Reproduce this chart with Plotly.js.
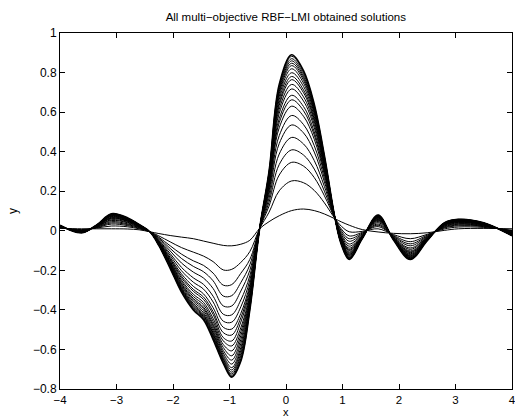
<!DOCTYPE html>
<html>
<head>
<meta charset="utf-8">
<script src="https://cdn.plot.ly/plotly-3.0.1.min.js"></script>
<style>html,body{margin:0;padding:0;background:#fff;}#chart{width:515px;height:419px;}</style>
</head>
<body>
<div id="chart"></div>
<script>
const chartTitle = "All multi\u2212objective RBF\u2212LMI obtained solutions";
const xLabel = "x";
const yLabel = "y";
const xs = [-4, -3.62, -3.35, -3.09, -2.8, -2.6, -2.41, -2.25, -2.05, -1.85, -1.64, -1.46, -1.29, -1.11, -0.96, -0.8, -0.64, -0.47, -0.3, -0.12, 0.1, 0.31, 0.5, 0.68, 0.87, 0.98, 1.12, 1.35, 1.63, 1.9, 2.2, 2.5, 2.8, 3.05, 3.5, 4];

const y01 = [0.012, 0.010, 0.010, 0.010, 0.009, 0.005, -0.005, -0.014, -0.024, -0.032, -0.040, -0.052, -0.063, -0.074, -0.076, -0.068, -0.048, 0.010, 0.046, 0.076, 0.102, 0.110, 0.102, 0.085, 0.060, 0.045, 0.028, 0.006, -0.006, -0.013, -0.015, -0.010, 0.002, 0.010, 0.012, 0.010];
const y02 = [0.015, 0.006, 0.014, 0.024, 0.020, 0.010, -0.005, -0.026, -0.056, -0.085, -0.108, -0.128, -0.156, -0.198, -0.195, -0.160, -0.105, 0.009, 0.094, 0.202, 0.252, 0.243, 0.204, 0.141, 0.060, 0.023, -0.005, -0.003, 0.010, -0.019, -0.040, -0.018, 0.009, 0.019, 0.017, 0.003];
const y03 = [0.017, 0.004, 0.016, 0.034, 0.026, 0.013, -0.005, -0.033, -0.076, -0.118, -0.152, -0.175, -0.214, -0.275, -0.272, -0.215, -0.145, 0.009, 0.125, 0.282, 0.346, 0.327, 0.269, 0.177, 0.060, 0.009, -0.026, -0.008, 0.021, -0.023, -0.055, -0.022, 0.014, 0.025, 0.021, -0.001];
const y04 = [0.018, 0.002, 0.018, 0.040, 0.031, 0.016, -0.005, -0.038, -0.089, -0.140, -0.180, -0.207, -0.253, -0.330, -0.328, -0.262, -0.172, 0.009, 0.145, 0.335, 0.409, 0.383, 0.312, 0.200, 0.060, 0.000, -0.040, -0.012, 0.028, -0.026, -0.066, -0.026, 0.017, 0.029, 0.023, -0.004];
const y05 = [0.020, 0.001, 0.019, 0.046, 0.035, 0.018, -0.005, -0.043, -0.102, -0.163, -0.209, -0.239, -0.292, -0.380, -0.380, -0.305, -0.200, 0.009, 0.165, 0.388, 0.472, 0.439, 0.355, 0.224, 0.060, -0.009, -0.053, -0.016, 0.034, -0.028, -0.076, -0.029, 0.020, 0.033, 0.025, -0.007];
const y06 = [0.021, -0.001, 0.021, 0.052, 0.040, 0.020, -0.005, -0.048, -0.115, -0.185, -0.238, -0.271, -0.331, -0.422, -0.425, -0.350, -0.227, 0.008, 0.186, 0.441, 0.535, 0.495, 0.398, 0.247, 0.060, -0.018, -0.067, -0.019, 0.041, -0.031, -0.087, -0.032, 0.023, 0.036, 0.027, -0.009];
const y07 = [0.022, -0.002, 0.022, 0.056, 0.043, 0.022, -0.005, -0.051, -0.125, -0.202, -0.260, -0.295, -0.360, -0.457, -0.462, -0.385, -0.249, 0.008, 0.201, 0.481, 0.583, 0.537, 0.430, 0.265, 0.060, -0.025, -0.078, -0.022, 0.047, -0.033, -0.094, -0.034, 0.025, 0.039, 0.029, -0.011];
const y08 = [0.023, -0.003, 0.023, 0.061, 0.047, 0.023, -0.005, -0.055, -0.135, -0.218, -0.281, -0.319, -0.389, -0.488, -0.497, -0.418, -0.270, 0.008, 0.216, 0.521, 0.630, 0.579, 0.463, 0.283, 0.060, -0.032, -0.088, -0.025, 0.052, -0.034, -0.102, -0.037, 0.028, 0.042, 0.031, -0.014];
const y09 = [0.023, -0.004, 0.024, 0.064, 0.049, 0.024, -0.005, -0.057, -0.142, -0.229, -0.296, -0.335, -0.409, -0.515, -0.527, -0.440, -0.285, 0.008, 0.226, 0.547, 0.662, 0.607, 0.484, 0.295, 0.060, -0.037, -0.095, -0.027, 0.055, -0.036, -0.107, -0.038, 0.029, 0.044, 0.032, -0.015];
const y10 = [0.024, -0.005, 0.025, 0.066, 0.050, 0.025, -0.005, -0.059, -0.147, -0.238, -0.306, -0.347, -0.423, -0.540, -0.557, -0.462, -0.299, 0.008, 0.234, 0.567, 0.685, 0.628, 0.500, 0.303, 0.060, -0.040, -0.100, -0.028, 0.058, -0.037, -0.111, -0.040, 0.030, 0.046, 0.033, -0.016];
const y11 = [0.025, -0.006, 0.026, 0.069, 0.053, 0.026, -0.005, -0.062, -0.154, -0.249, -0.321, -0.362, -0.443, -0.557, -0.582, -0.490, -0.314, 0.007, 0.244, 0.594, 0.717, 0.656, 0.522, 0.315, 0.060, -0.045, -0.107, -0.030, 0.061, -0.038, -0.116, -0.041, 0.032, 0.047, 0.034, -0.017];
const y12 = [0.025, -0.006, 0.026, 0.072, 0.054, 0.027, -0.005, -0.063, -0.159, -0.257, -0.332, -0.374, -0.458, -0.575, -0.607, -0.510, -0.326, 0.007, 0.252, 0.614, 0.740, 0.677, 0.538, 0.324, 0.060, -0.048, -0.112, -0.031, 0.064, -0.039, -0.120, -0.042, 0.033, 0.049, 0.035, -0.018];
const y13 = [0.025, -0.007, 0.027, 0.074, 0.056, 0.028, -0.005, -0.065, -0.163, -0.266, -0.342, -0.386, -0.472, -0.590, -0.632, -0.530, -0.338, 0.007, 0.259, 0.634, 0.764, 0.698, 0.554, 0.333, 0.060, -0.052, -0.117, -0.033, 0.066, -0.040, -0.124, -0.044, 0.034, 0.050, 0.036, -0.019];
const y14 = [0.026, -0.007, 0.027, 0.075, 0.057, 0.028, -0.005, -0.067, -0.167, -0.271, -0.350, -0.394, -0.482, -0.605, -0.654, -0.550, -0.348, 0.007, 0.264, 0.647, 0.780, 0.712, 0.565, 0.339, 0.060, -0.054, -0.121, -0.034, 0.068, -0.041, -0.127, -0.044, 0.035, 0.051, 0.036, -0.020];
const y15 = [0.026, -0.008, 0.028, 0.077, 0.059, 0.029, -0.005, -0.068, -0.171, -0.278, -0.359, -0.404, -0.494, -0.618, -0.674, -0.570, -0.358, 0.007, 0.271, 0.664, 0.799, 0.730, 0.578, 0.346, 0.060, -0.057, -0.125, -0.035, 0.070, -0.041, -0.130, -0.045, 0.036, 0.053, 0.037, -0.021];
const y16 = [0.027, -0.008, 0.028, 0.079, 0.060, 0.030, -0.005, -0.070, -0.175, -0.285, -0.368, -0.414, -0.506, -0.630, -0.692, -0.590, -0.367, 0.006, 0.277, 0.680, 0.819, 0.747, 0.592, 0.354, 0.060, -0.060, -0.129, -0.036, 0.072, -0.042, -0.133, -0.046, 0.037, 0.054, 0.038, -0.022];
const y17 = [0.027, -0.009, 0.029, 0.081, 0.061, 0.030, -0.005, -0.071, -0.178, -0.291, -0.375, -0.422, -0.516, -0.640, -0.704, -0.605, -0.375, 0.006, 0.282, 0.694, 0.835, 0.761, 0.602, 0.359, 0.060, -0.062, -0.133, -0.037, 0.074, -0.043, -0.136, -0.047, 0.037, 0.055, 0.038, -0.023];
const y18 = [0.027, -0.009, 0.029, 0.082, 0.062, 0.031, -0.005, -0.072, -0.181, -0.295, -0.380, -0.428, -0.523, -0.648, -0.715, -0.620, -0.381, 0.006, 0.286, 0.704, 0.847, 0.772, 0.610, 0.364, 0.060, -0.064, -0.136, -0.038, 0.075, -0.043, -0.138, -0.048, 0.038, 0.055, 0.039, -0.023];
const y19 = [0.027, -0.009, 0.029, 0.083, 0.063, 0.031, -0.005, -0.073, -0.183, -0.299, -0.386, -0.434, -0.531, -0.655, -0.724, -0.633, -0.386, 0.006, 0.290, 0.713, 0.859, 0.782, 0.619, 0.368, 0.060, -0.065, -0.138, -0.038, 0.077, -0.044, -0.140, -0.048, 0.039, 0.056, 0.039, -0.024];
const y20 = [0.028, -0.010, 0.030, 0.084, 0.064, 0.031, -0.005, -0.074, -0.186, -0.303, -0.391, -0.440, -0.538, -0.662, -0.731, -0.646, -0.391, 0.005, 0.294, 0.723, 0.870, 0.793, 0.627, 0.373, 0.060, -0.067, -0.141, -0.039, 0.078, -0.044, -0.142, -0.049, 0.039, 0.057, 0.039, -0.024];
const y21 = [0.028, -0.010, 0.030, 0.085, 0.064, 0.032, -0.005, -0.074, -0.188, -0.307, -0.396, -0.446, -0.545, -0.667, -0.737, -0.655, -0.397, 0.005, 0.298, 0.733, 0.882, 0.803, 0.635, 0.377, 0.060, -0.069, -0.143, -0.040, 0.079, -0.045, -0.144, -0.050, 0.040, 0.058, 0.040, -0.025];
const y22 = [0.028, -0.010, 0.030, 0.086, 0.065, 0.032, -0.005, -0.075, -0.190, -0.310, -0.400, -0.450, -0.550, -0.670, -0.740, -0.660, -0.400, 0.005, 0.300, 0.740, 0.890, 0.810, 0.640, 0.380, 0.060, -0.070, -0.145, -0.040, 0.080, -0.045, -0.145, -0.050, 0.040, 0.058, 0.040, -0.025];

const curves = [y01, y02, y03, y04, y05, y06, y07, y08, y09, y10, y11, y12, y13, y14, y15, y16, y17, y18, y19, y20, y21, y22];

const traces = curves.map((ys, i) => ({
  x: xs, y: ys, type: 'scatter', mode: 'lines',
  line: {color: '#000', width: i === curves.length - 1 ? 1.6 : 1, shape: 'spline', smoothing: 1},
  hoverinfo: 'skip', showlegend: false
}));

const fam = 'Liberation Sans, Arial, Helvetica, sans-serif';
const axisFont = {family: fam, size: 12, color: '#000'};
const xTickFont = {family: fam, size: 11.5, color: '#000'};
const layout = {
  width: 515, height: 419,
  margin: {l: 60, r: 3, t: 33, b: 30, pad: 0},
  paper_bgcolor: '#fff', plot_bgcolor: '#fff',
  title: {text: chartTitle, x: 0.555, xanchor: 'center', y: 0.959, yanchor: 'middle',
          font: {family: fam, size: 11.5, color: '#000'}},
  xaxis: {range: [-4, 4], tickvals: [-4, -3, -2, -1, 0, 1, 2, 3, 4], ticks: 'inside', ticklen: 5,
          tickcolor: '#000', showline: true, linecolor: '#000', linewidth: 1, mirror: 'ticks',
          showgrid: false, zeroline: false, tickfont: xTickFont, ticklabeloverflow: 'allow'},
  yaxis: {range: [-0.8, 1], tickvals: [-0.8, -0.6, -0.4, -0.2, 0, 0.2, 0.4, 0.6, 0.8, 1],
          ticktext: ['\u22120.8', '\u22120.6', '\u22120.4', '\u22120.2', '0', '0.2', '0.4', '0.6', '0.8', '1'],
          ticks: 'inside', ticklen: 5,
          tickcolor: '#000', showline: true, linecolor: '#000', linewidth: 1, mirror: 'ticks',
          showgrid: false, zeroline: false, tickfont: axisFont,
          title: {text: yLabel, font: axisFont, standoff: 12}},
  annotations: [{text: xLabel, xref: 'paper', yref: 'paper', x: 0.5, y: -0.0843,
                 xanchor: 'center', yanchor: 'bottom', showarrow: false,
                 font: {family: fam, size: 11, color: '#000'}, borderpad: 0}]
};

Plotly.newPlot('chart', traces, layout, {staticPlot: true, displayModeBar: false});
</script>
</body>
</html>
